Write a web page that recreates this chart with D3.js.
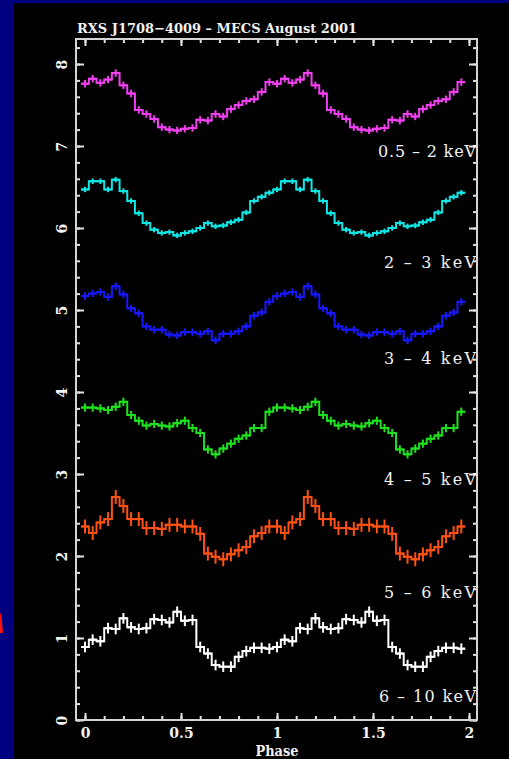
<!DOCTYPE html>
<html>
<head>
<meta charset="utf-8">
<script src="https://cdn.jsdelivr.net/npm/d3@7"></script>
<style>
  html, body { margin: 0; padding: 0; background: #000080; overflow: hidden; }
  svg { display: block; }
</style>
</head>
<body>
<svg id="chart" width="509" height="759"></svg>
<script>
// Pulse profiles of RXS J1708-4009 (MECS, August 2001) in six energy bands.
// Each profile has 25 phase bins per cycle and is drawn twice (phase 0-2).

const title = "RXS J1708\u22124009 \u2013 MECS August 2001";
const bandLabels = ["0.5 \u2013 2 keV", "2 \u2013 3 keV", "3 \u2013 4 keV",
                    "4 \u2013 5 keV", "5 \u2013 6 keV", "6 \u2013 10 keV"];

// Count rate per phase bin (one cycle, offset for display)
const band0520 = [7.76, 7.82, 7.77, 7.81, 7.89, 7.74, 7.64, 7.44, 7.39, 7.33, 7.23, 7.20, 7.19,
                  7.21, 7.22, 7.32, 7.31, 7.39, 7.36, 7.45, 7.50, 7.55, 7.57, 7.66, 7.78];
const band2030 = [6.47, 6.57, 6.57, 6.47, 6.59, 6.45, 6.33, 6.18, 6.06, 5.98, 5.94, 5.95, 5.91,
                  5.94, 5.96, 6.00, 6.06, 6.02, 6.03, 6.07, 6.10, 6.19, 6.33, 6.38, 6.43];
const band3040 = [5.17, 5.20, 5.22, 5.16, 5.29, 5.19, 5.02, 4.96, 4.80, 4.76, 4.76, 4.70, 4.69,
                  4.73, 4.73, 4.71, 4.74, 4.63, 4.71, 4.71, 4.74, 4.80, 4.93, 4.97, 5.10];
const band4050 = [3.81, 3.81, 3.80, 3.78, 3.82, 3.88, 3.72, 3.65, 3.59, 3.61, 3.59, 3.58, 3.62,
                  3.65, 3.56, 3.50, 3.30, 3.24, 3.31, 3.37, 3.43, 3.47, 3.56, 3.56, 3.76];
const band5060 = [2.36, 2.28, 2.41, 2.45, 2.72, 2.61, 2.45, 2.45, 2.34, 2.34, 2.33, 2.38, 2.38,
                  2.36, 2.36, 2.27, 2.03, 1.99, 1.96, 2.02, 2.07, 2.11, 2.24, 2.28, 2.36];
const band6100 = [0.89, 0.98, 0.96, 1.12, 1.11, 1.24, 1.13, 1.11, 1.12, 1.23, 1.22, 1.19, 1.32,
                  1.21, 1.22, 0.89, 0.81, 0.67, 0.65, 0.65, 0.77, 0.84, 0.88, 0.88, 0.87];

// Typical 1-sigma error per band
const bandErrors = [0.045, 0.033, 0.045, 0.05, 0.085, 0.065];

const binsPerCycle = 25;
const cycles = 2;
const xTickValues = [0, 0.5, 1, 1.5, 2];
const xTickLabels = ["0", "0.5", "1", "1.5", "2"];
const yTickValues = [0, 1, 2, 3, 4, 5, 6, 7, 8];

// ---------------------------------------------------------------------------
const bandColors = ["#f23ff2", "#10e6e6", "#1818ff", "#1ee01e", "#ff5212", "#ffffff"];
const bandSeries = [band0520, band2030, band3040, band4050, band5060, band6100];
const labelLevel = [6.87, 5.51, 4.34, 2.86, 1.49, 0.22];
const labelWidth = [98, 92, 92, 92, 92, 97];

const svg = d3.select("#chart");
const W = 509, H = 759;
const frame = { left: 76, right: 477, top: 39, bottom: 720 };
const axisColor = "#e2e2e2";
const textColor = "#f2f2f2";
const font = "'DejaVu Serif', 'Liberation Serif', serif";

// black slide panel
svg.append("rect").attr("x", 14).attr("y", 3).attr("width", W - 14).attr("height", H - 3)
  .attr("fill", "#000000");
// small red mark on the slide edge
svg.append("path").attr("d", "M0,614 L1.2,613 L3,633 L0,633 Z").attr("fill", "#ff1010");

const x = d3.scaleLinear().domain([-0.0469, 2.0417]).range([frame.left, frame.right]);
const y = d3.scaleLinear().domain([0, 8.305]).range([frame.bottom, frame.top]);

const binW = 1 / binsPerCycle;
const g = svg.append("g");

// step curves with error crosses
bandSeries.forEach((vals, k) => {
  const pts = [];
  for (let c = 0; c < cycles; c++) {
    vals.forEach((v, i) => pts.push({ p: c + i * binW, v }));
  }
  const ext = [{ p: pts[0].p - binW / 2, v: pts[0].v }, ...pts,
               { p: pts[pts.length - 1].p + binW / 2, v: pts[pts.length - 1].v }];
  const line = d3.line().x(d => x(d.p)).y(d => y(d.v)).curve(d3.curveStep);
  const col = bandColors[k];
  const e = bandErrors[k];
  const sg = g.append("g").attr("stroke", col).attr("fill", "none").attr("stroke-width", 2);
  sg.append("path").attr("d", line(ext));
  sg.selectAll("line.ev").data(pts).join("line").attr("class", "ev")
    .attr("x1", d => x(d.p)).attr("x2", d => x(d.p))
    .attr("y1", d => y(d.v - e)).attr("y2", d => y(d.v + e));
  sg.selectAll("line.eh").data(pts).join("line").attr("class", "eh")
    .attr("x1", d => x(d.p - binW / 2)).attr("x2", d => x(d.p + binW / 2))
    .attr("y1", d => y(d.v)).attr("y2", d => y(d.v));
});

// axes: ticks point inward on all four sides
const xMinor = d3.range(0, 2.001, 0.1);
const yMinor = d3.range(0, 8.301, 0.2);
function styleAxis(sel) {
  sel.select(".domain").remove();
  sel.selectAll("line").attr("stroke", axisColor).attr("stroke-width", 2);
  sel.selectAll("text").attr("fill", textColor).attr("font-family", font);
}
const noLab = () => "";

svg.append("g").attr("transform", `translate(0,${frame.bottom})`)
  .call(d3.axisBottom(x).tickValues(xMinor).tickSizeInner(-4).tickSizeOuter(0).tickFormat(noLab))
  .call(styleAxis);
svg.append("g").attr("transform", `translate(0,${frame.bottom})`)
  .call(d3.axisBottom(x).tickValues(xTickValues).tickSizeInner(-7).tickSizeOuter(0)
    .tickPadding(8).tickFormat((d, i) => xTickLabels[i]))
  .call(styleAxis)
  .call(s => s.selectAll("text").attr("font-size", 14).attr("font-weight", "bold"));
svg.append("g").attr("transform", `translate(0,${frame.top})`)
  .call(d3.axisTop(x).tickValues(xMinor).tickSizeInner(-4).tickSizeOuter(0).tickFormat(noLab))
  .call(styleAxis);
svg.append("g").attr("transform", `translate(0,${frame.top})`)
  .call(d3.axisTop(x).tickValues(xTickValues).tickSizeInner(-7).tickSizeOuter(0).tickFormat(noLab))
  .call(styleAxis);

svg.append("g").attr("transform", `translate(${frame.left},0)`)
  .call(d3.axisLeft(y).tickValues(yMinor).tickSizeInner(-4).tickSizeOuter(0).tickFormat(noLab))
  .call(styleAxis);
svg.append("g").attr("transform", `translate(${frame.left},0)`)
  .call(d3.axisLeft(y).tickValues(yTickValues).tickSizeInner(-8).tickSizeOuter(0).tickFormat(d3.format("d")))
  .call(styleAxis)
  .call(s => s.selectAll("text")
    .attr("x", null).attr("dy", "0.36em").attr("text-anchor", "middle")
    .attr("font-size", 14).attr("font-weight", "bold")
    .attr("transform", "translate(-14.5,0) rotate(-90)"));
svg.append("g").attr("transform", `translate(${frame.right},0)`)
  .call(d3.axisRight(y).tickValues(yMinor).tickSizeInner(-4).tickSizeOuter(0).tickFormat(noLab))
  .call(styleAxis);
svg.append("g").attr("transform", `translate(${frame.right},0)`)
  .call(d3.axisRight(y).tickValues(yTickValues).tickSizeInner(-8).tickSizeOuter(0).tickFormat(noLab))
  .call(styleAxis);

// frame
svg.append("rect")
  .attr("x", frame.left).attr("y", frame.top)
  .attr("width", frame.right - frame.left).attr("height", frame.bottom - frame.top)
  .attr("fill", "none").attr("stroke", "#d4d4d4").attr("stroke-width", 2);

// band labels
svg.append("g").selectAll("text").data(bandLabels).join("text")
  .attr("x", frame.right - 1).attr("y", (d, i) => y(labelLevel[i]))
  .attr("text-anchor", "end")
  .attr("font-family", font).attr("font-size", 16)
  .attr("fill", textColor)
  .attr("textLength", (d, i) => labelWidth[i]).attr("lengthAdjust", "spacing")
  .text(d => d);

// title and axis title
svg.append("text").attr("x", frame.left + 1).attr("y", 32.5)
  .attr("font-family", font).attr("font-size", 13.5).attr("font-weight", "bold")
  .attr("fill", textColor)
  .attr("textLength", 280).attr("lengthAdjust", "spacingAndGlyphs")
  .text(title);
svg.append("text").attr("x", x(1)).attr("y", 755.5).attr("text-anchor", "middle")
  .attr("font-family", font).attr("font-size", 14).attr("font-weight", "bold")
  .attr("fill", textColor)
  .attr("textLength", 43).attr("lengthAdjust", "spacingAndGlyphs")
  .text("Phase");
</script>
</body>
</html>
